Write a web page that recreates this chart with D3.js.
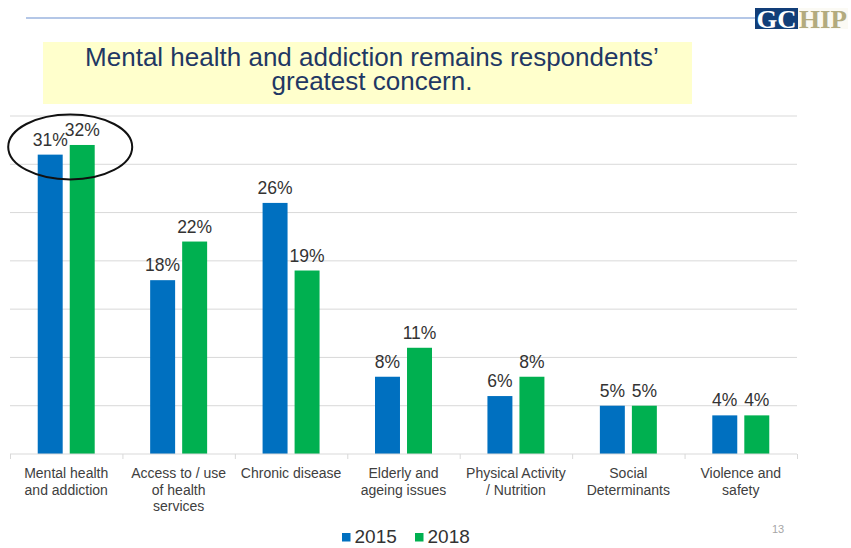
<!DOCTYPE html>
<html><head><meta charset="utf-8">
<script src="https://cdn.jsdelivr.net/npm/d3@7"></script>
<style>body{margin:0;background:#fff}svg{display:block}</style>
</head><body>
<svg id="c" width="851" height="548"></svg>
<script>
const categories = [
  ["Mental health","and addiction"],
  ["Access to / use","of health","services"],
  ["Chronic disease"],
  ["Elderly and","ageing issues"],
  ["Physical Activity","/ Nutrition"],
  ["Social","Determinants"],
  ["Violence and","safety"]
];
const series = ["2015","2018"];
const values2015 = [31,18,26,8,6,5,4];
const values2018 = [32,22,19,11,8,5,4];
const yTicks = [0,5,10,15,20,25,30,35];
const titleLines = ["Mental health and addiction remains respondents’","greatest concern."];
const colors = ["#0070C0","#00B050"];

const svg = d3.select("#c");
const font = "Liberation Sans, Arial, sans-serif";

// top rule
svg.append("line").attr("x1",26).attr("x2",756).attr("y1",18).attr("y2",18)
  .attr("stroke","#B4C7E7").attr("stroke-width",2);
// logo
svg.append("rect").attr("x",755).attr("y",8).attr("width",43).attr("height",21).attr("fill","#123E78");
svg.append("rect").attr("x",798).attr("y",8).attr("width",50).attr("height",21).attr("fill","#FBFAF4");
svg.append("text").attr("x",776.5).attr("y",28).attr("text-anchor","middle")
  .attr("font-family","Liberation Serif, serif").attr("font-weight","bold").attr("font-size",25)
  .attr("textLength",40).attr("lengthAdjust","spacingAndGlyphs")
  .attr("fill","#fff").text("GC");
svg.append("text").attr("x",823).attr("y",28).attr("text-anchor","middle")
  .attr("font-family","Liberation Serif, serif").attr("font-weight","bold").attr("font-size",25)
  .attr("textLength",48).attr("lengthAdjust","spacingAndGlyphs")
  .attr("fill","#B3AB7E").text("HIP");

// title box
svg.append("rect").attr("x",43).attr("y",42).attr("width",649).attr("height",62).attr("fill","#FFFFCC");
svg.append("text").attr("x",372).attr("y",66).attr("text-anchor","middle")
  .attr("font-family",font).attr("font-size",26).attr("fill","#1F3864")
  .selectAll("tspan").data(titleLines).join("tspan")
  .attr("x",372).attr("dy",(d,i)=>i?24:0).text(d=>d);

// chart
const x0 = d3.scaleBand().domain(d3.range(categories.length)).range([10,797]).padding(0);
const x1 = d3.scaleBand().domain(series).range([0,x0.bandwidth()]).paddingInner(0.22).paddingOuter(0.866);
const y = d3.scaleLinear().domain([0,35]).range([454,116]);

// gridlines
svg.append("g").selectAll("line").data(yTicks.slice(1)).join("line")
  .attr("x1",10).attr("x2",797).attr("y1",d=>y(d)).attr("y2",d=>y(d))
  .attr("stroke","#D9D9D9").attr("stroke-width",1);

const groups = svg.append("g").selectAll("g").data(categories).join("g")
  .attr("transform",(d,i)=>`translate(${x0(i)},0)`);

const data = categories.map((c,i)=>[values2015[i],values2018[i]]);
groups.selectAll("rect").data((d,i)=>data[i]).join("rect")
  .attr("x",(d,j)=>x1(series[j])).attr("width",x1.bandwidth())
  .attr("y",d=>y(d)).attr("height",d=>y(0)-y(d)).attr("fill",(d,j)=>colors[j]);
groups.selectAll("text.v").data((d,i)=>data[i]).join("text").attr("class","v")
  .attr("x",(d,j)=>x1(series[j])+x1.bandwidth()/2).attr("y",d=>y(d)-9)
  .attr("text-anchor","middle").attr("font-family",font).attr("font-size",17.5).attr("fill","#333")
  .text(d=>d+"%");

// x axis
const ax = d3.axisBottom(d3.scaleLinear().domain([0,7]).range([10,797])).ticks(7).tickSize(5).tickFormat("");
const axg = svg.append("g").attr("transform","translate(0,454)").call(ax);
axg.selectAll("path,line").attr("stroke","#D9D9D9");
axg.select("path").attr("d","M10,0H797");

groups.append("text").attr("text-anchor","middle").attr("font-family",font).attr("font-size",14)
  .attr("fill","#404040")
  .selectAll("tspan").data(d=>d).join("tspan")
  .attr("x",x0.bandwidth()/2).attr("y",(d,i)=>478+i*16.5).text(d=>d);

// highlight ellipse
svg.append("ellipse").attr("cx",x0(0)+x0.bandwidth()/2+4).attr("cy",y(32)+2).attr("rx",62).attr("ry",32.5)
  .attr("fill","none").attr("stroke","#111").attr("stroke-width",2);

// legend
const lg = svg.append("g").selectAll("g").data(series).join("g")
  .attr("transform",(d,i)=>`translate(${342+i*73},0)`);
lg.append("rect").attr("x",0).attr("y",533).attr("width",8.5).attr("height",8.5).attr("fill",(d,i)=>colors[i]);
lg.append("text").attr("x",12.5).attr("y",543).attr("font-family",font).attr("font-size",19).attr("fill","#333").text(d=>d);

// page number
svg.append("text").attr("x",778).attr("y",533).attr("text-anchor","middle").attr("font-family",font)
  .attr("font-size",11).attr("fill","#A6A6A6").text("13");
</script>
</body></html>
